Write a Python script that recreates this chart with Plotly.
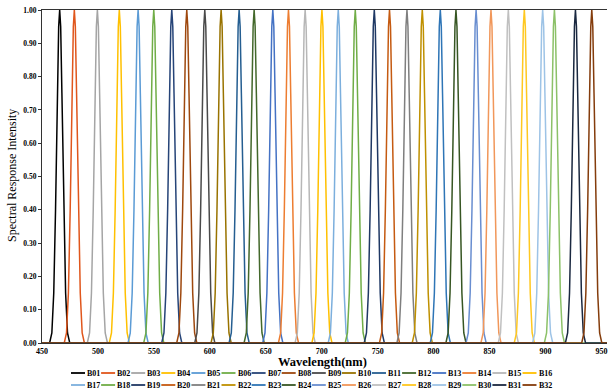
import plotly.graph_objects as go

# ---- data ----
BANDS = [f"B{i:02d}" for i in range(1, 33)]
PEAKS_NM = [465.8, 478.9, 499.5, 519.1, 535.9, 549.9, 566.0, 579.4,
            595.5, 610.1, 626.2, 639.6, 656.3, 670.3, 685.2, 700.2,
            714.8, 730.0, 747.0, 760.6, 776.2, 789.9, 806.0, 820.0,
            838.0, 851.3, 866.8, 881.1, 897.5, 908.0, 926.8, 941.4]
COLORS = ["#000000", "#E0561C", "#A5A5A5", "#FFC000", "#5B9BD5", "#70AD47",
          "#264478", "#9E480E", "#4A4A4A", "#997300", "#255E91", "#43682B",
          "#4472C4", "#ED7D31", "#B7B7B7", "#FFC000", "#7CAFDD", "#70AD47",
          "#1F3864", "#C55A11", "#7F7F7F", "#BF9000", "#2E75B6", "#375623",
          "#698ED0", "#F1975A", "#C0C0C0", "#FFC820", "#9DC3E6", "#8CC168",
          "#1A2840", "#843C0C"]
# common band profile (offset from peak in nm, relative response)
PROFILE_OFFSET = [-9.0, -7.0, -5.3, -3.7, -2.0, -0.9, 0.0, 0.9, 2.0, 3.7, 5.3, 7.0, 9.0]
PROFILE_LEVEL = [0.0, 0.03, 0.15, 0.40, 0.75, 0.95, 1.0, 0.95, 0.75, 0.40, 0.15, 0.03, 0.0]
X_RANGE = [450, 955]
X_TICKS = [450, 500, 550, 600, 650, 700, 750, 800, 850, 900, 950]
Y_TICKS = [0.0, 0.1, 0.2, 0.3, 0.4, 0.5, 0.6, 0.7, 0.8, 0.9, 1.0]

SERIF = "Liberation Serif"
W, H = 612, 392
L, R, T, B = 42, 5, 10, 49

fig = go.Figure()
for name, pk, col in zip(BANDS, PEAKS_NM, COLORS):
    xs = [X_RANGE[0]] + [pk + o for o in PROFILE_OFFSET] + [X_RANGE[1]]
    ys = [0.0] + PROFILE_LEVEL + [0.0]
    fig.add_trace(go.Scatter(x=xs, y=ys, mode="lines", name=name,
                             line=dict(color=col, width=1.5),
                             showlegend=False))

fig.update_layout(
    width=W, height=H,
    margin=dict(l=L, r=R, t=T, b=B, autoexpand=False),
    paper_bgcolor="white", plot_bgcolor="white",
    font=dict(family=SERIF, color="black"),
    showlegend=False,
)
fig.update_xaxes(range=X_RANGE, tickvals=X_TICKS, ticktext=[str(v) for v in X_TICKS],
                 showgrid=False, zeroline=False, showline=True, linecolor="#333333",
                 linewidth=1.2, mirror=True, ticks="", automargin=False,
                 tickfont=dict(family=SERIF, size=8, weight="bold"))
fig.update_yaxes(range=[0, 1], tickvals=Y_TICKS, ticktext=[f"{v:.2f}" for v in Y_TICKS],
                 showgrid=False, zeroline=False, showline=True, linecolor="#333333",
                 linewidth=1.2, ticks="outside", ticklen=3, tickcolor="#333333",
                 automargin=False,
                 tickfont=dict(family=SERIF, size=7.5, weight="bold"))

pw, ph = W - L - R, H - T - B
def px2paper(x, y):
    return (x - L) / pw, (H - B - y) / ph

# y axis title
yx, yy = px2paper(12, 176)
fig.add_annotation(text="Spectral Response Intensity", xref="paper", yref="paper",
                   x=yx, y=yy, showarrow=False, textangle=-90,
                   font=dict(family=SERIF, size=12),
                   xanchor="center", yanchor="middle")

# x axis title
xt, yt = px2paper(322, 362)
fig.add_annotation(text="Wavelength(nm)", xref="paper", yref="paper", x=xt, y=yt,
                   showarrow=False, font=dict(family=SERIF, size=12.5, weight="bold"),
                   xanchor="center", yanchor="middle", borderpad=0)

# custom two-row legend
shapes = []
for i, (name, col) in enumerate(zip(BANDS, COLORS)):
    row, colidx = divmod(i, 16)
    x0 = 71 + colidx * 30.1
    ypx = 373 + row * 12
    ax0, ay = px2paper(x0, ypx)
    ax1, _ = px2paper(x0 + 14, ypx)
    shapes.append(dict(type="line", xref="paper", yref="paper", x0=ax0, x1=ax1,
                       y0=ay, y1=ay, line=dict(color=col, width=1.8)))
    tx, _ = px2paper(x0 + 15, ypx)
    fig.add_annotation(text=name, xref="paper", yref="paper", x=tx, y=ay,
                       showarrow=False, xanchor="left", yanchor="middle", borderpad=0,
                       font=dict(family=SERIF, size=8, weight="bold"))
fig.update_layout(shapes=shapes)

fig.write_html("out.html", config={"displayModeBar": False},
               post_script="document.body.style.margin='0';document.body.style.overflow='hidden';")
